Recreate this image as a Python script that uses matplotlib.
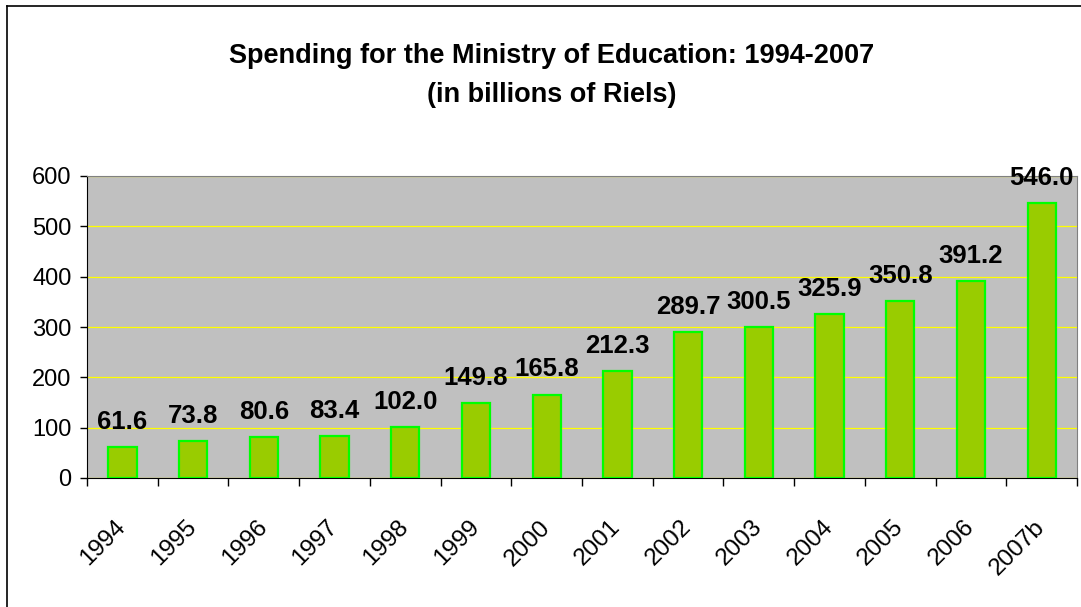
import matplotlib.pyplot as plt
from matplotlib.lines import Line2D
from matplotlib.transforms import ScaledTranslation

# Spending by year (billions of Riels)
years = ["1994", "1995", "1996", "1997", "1998", "1999", "2000",
         "2001", "2002", "2003", "2004", "2005", "2006", "2007b"]
spending = [61.6, 73.8, 80.6, 83.4, 102.0, 149.8, 165.8,
            212.3, 289.7, 300.5, 325.9, 350.8, 391.2, 546.0]
yticks = [0, 100, 200, 300, 400, 500, 600]

plt.rcParams["font.family"] = ["Liberation Sans", "DejaVu Sans"]

W, H = 1081, 607
fig = plt.figure(figsize=(W / 100, H / 100), dpi=100)
ax = fig.add_axes([87 / W, (H - 478) / H, 990 / W, 302 / H])

x = list(range(len(years)))
ax.bar(x, spending, width=0.4, color="#99cc00", edgecolor="#00ff00",
       linewidth=1.6, zorder=3)

# value labels above each bar
for xi, v in zip(x, spending):
    ax.annotate(f"{v:.1f}", (xi, v), xytext=(0, 13), textcoords="offset points",
                ha="center", va="baseline", fontsize=18.5, fontweight="bold",
                zorder=4)

ax.set_xlim(-0.5, len(years) - 0.5)
ax.set_ylim(0, 600)
ax.set_facecolor("#c0c0c0")
ax.set_yticks(yticks)
ax.set_yticklabels([str(t) for t in yticks], fontsize=17)
ax.yaxis.grid(True, color="#ffff00", linewidth=0.9, zorder=1)
ax.set_axisbelow(True)

# category ticks sit between bars, labels at bar centres
ax.set_xticks([i - 0.5 for i in range(len(years) + 1)])
ax.set_xticklabels([])
ax.set_xticks(x, minor=True)
ax.set_xticklabels(years, minor=True, rotation=45, ha="right",
                   rotation_mode="anchor", va="center", fontsize=17.5)
shift = ScaledTranslation(-4 / 72, 0, fig.dpi_scale_trans)
for lbl in ax.get_xticklabels(minor=True):
    lbl.set_transform(lbl.get_transform() + shift)
ax.tick_params(axis="x", which="major", length=6, width=1, color="black",
               direction="out")
ax.tick_params(axis="x", which="minor", length=0, pad=33)
ax.tick_params(axis="y", length=5, width=1, direction="out", pad=6)

for s in ("top", "right"):
    ax.spines[s].set_color("#808080")
for s in ("left", "bottom"):
    ax.spines[s].set_color("black")

fig.text(552 / W, 1 - 63 / H, "Spending for the Ministry of Education: 1994-2007",
         ha="center", va="baseline", fontsize=19.5, fontweight="bold")
fig.text(552 / W, 1 - 102 / H, "(in billions of Riels)",
         ha="center", va="baseline", fontsize=19.5, fontweight="bold")

# outer chart border
fig.add_artist(Line2D([7 / W, 1], [1 - 6 / H, 1 - 6 / H], color="black",
                      linewidth=1.2, transform=fig.transFigure))
fig.add_artist(Line2D([7 / W, 7 / W], [0, 1 - 6 / H], color="black",
                      linewidth=1.2, transform=fig.transFigure))

fig.savefig("out.png", dpi=100)
